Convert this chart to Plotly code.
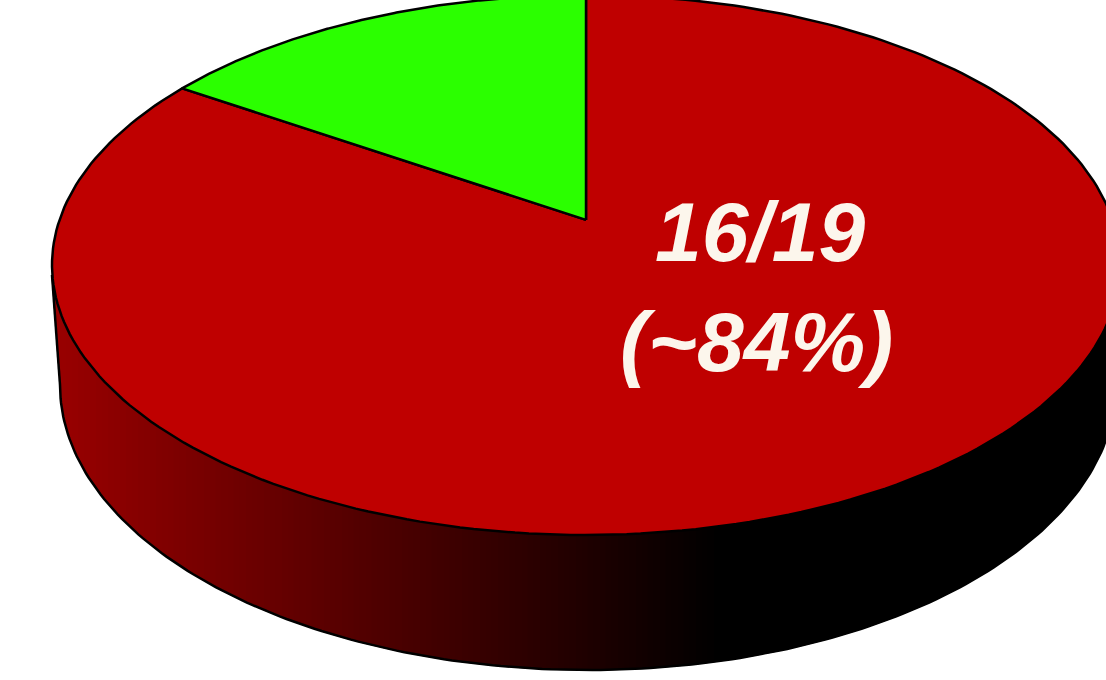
import numpy as np
import plotly.graph_objects as go

labels = ["Positive", "Negative"]
values = [16, 3]
slice_colors = ["#BF0000", "#2BFF00"]
text_color = "#FCF6EC"

# Projection of the pie disc into the picture (pixel axes)
CX, CY, RX, RY = 586, 265, 534, 270
LOW_CX, LOW_CY, LOW_RX, LOW_RY = 588, 385, 528, 285
TILT = 0.167

# Side wall gradient: x position, red level
side_x = [50, 720, 1120]
side_red = [155, 0, 0]


def project(theta):
    """theta in radians, clockwise from 12 o'clock, on the tilted disc."""
    u, v = np.sin(theta), np.cos(theta)
    w = TILT * v + 1
    return CX + RX * u * np.sqrt(1 - TILT ** 2) / w, CY - RY * (v + TILT) / w


def wedge(start, end):
    t = np.linspace(start, end, 240)
    x, y = project(t)
    ax, ay = CX, CY - RY * TILT
    return np.r_[ax, x, ax], np.r_[ay, y, ay]


def top_y(x):
    d = np.clip((x - CX) / RX, -1, 1)
    return CY + RY * np.sqrt(1 - d ** 2)


def low_y(x):
    d = np.clip((x - LOW_CX) / LOW_RX, -1, 1)
    return LOW_CY + LOW_RY * np.sqrt(1 - d ** 2)


fig = go.Figure()

# left cap joining the disc edge to the lower rim
fig.add_trace(go.Scatter(
    x=[CX - RX, LOW_CX - LOW_RX, LOW_CX - LOW_RX + 20, CX - RX + 20],
    y=[CY + 10, LOW_CY, LOW_CY, CY + 10],
    mode="lines", fill="toself", fillcolor="rgb(155,0,0)",
    line=dict(color="rgb(155,0,0)", width=1), hoverinfo="skip", showlegend=False))

# side wall
edges = np.arange(LOW_CX - LOW_RX, 1120, 6.0)
for a, b in zip(edges[:-1], edges[1:]):
    xs = np.linspace(a, b, 4)
    r = int(np.interp((a + b) / 2, side_x, side_red))
    col = f"rgb({r},0,0)"
    fig.add_trace(go.Scatter(
        x=np.r_[xs, xs[::-1]], y=np.r_[top_y(xs) - 3, low_y(xs)[::-1]],
        mode="lines", fill="toself", fillcolor=col,
        line=dict(color=col, width=1), hoverinfo="skip", showlegend=False))

# outer outline of the wall
t = np.linspace(-np.pi / 2, np.pi / 2, 200)
fig.add_trace(go.Scatter(
    x=LOW_CX + LOW_RX * np.sin(t), y=LOW_CY + LOW_RY * np.cos(t),
    mode="lines", line=dict(color="black", width=2.5),
    hoverinfo="skip", showlegend=False))
fig.add_trace(go.Scatter(
    x=[CX - RX, LOW_CX - LOW_RX], y=[CY + 10, LOW_CY],
    mode="lines", line=dict(color="black", width=2.5),
    hoverinfo="skip", showlegend=False))

# top slices, clockwise from 12 o'clock
total = sum(values)
angle = 0.0
for name, val, col in zip(labels, values, slice_colors):
    span = 2 * np.pi * val / total
    x, y = wedge(angle, angle + span)
    fig.add_trace(go.Scatter(
        x=x, y=y, mode="lines", fill="toself", fillcolor=col,
        line=dict(color="black", width=2.5), name=name, showlegend=False,
        hoverinfo="name"))
    angle += span

line1 = f"{values[0]}/{total}"
line2 = f"(~{round(100 * values[0] / total)}%)"
for txt, xp, yp in [(line1, 760, 232), (line2, 756, 342)]:
    fig.add_annotation(x=xp, y=yp, text=f"<b><i>{txt}</i></b>", showarrow=False,
                       xanchor="center", yanchor="middle",
                       font=dict(family="Liberation Sans", size=84, color=text_color))

fig.update_layout(
    width=1106, height=680, margin=dict(l=0, r=0, t=0, b=0),
    paper_bgcolor="white", plot_bgcolor="white", showlegend=False,
    xaxis=dict(range=[0, 1106], visible=False, fixedrange=True),
    yaxis=dict(range=[680, 0], visible=False, fixedrange=True),
)
fig.write_html("out.html", config={"displayModeBar": False},
               post_script="document.body.style.margin='0';document.body.style.overflow='hidden';")
